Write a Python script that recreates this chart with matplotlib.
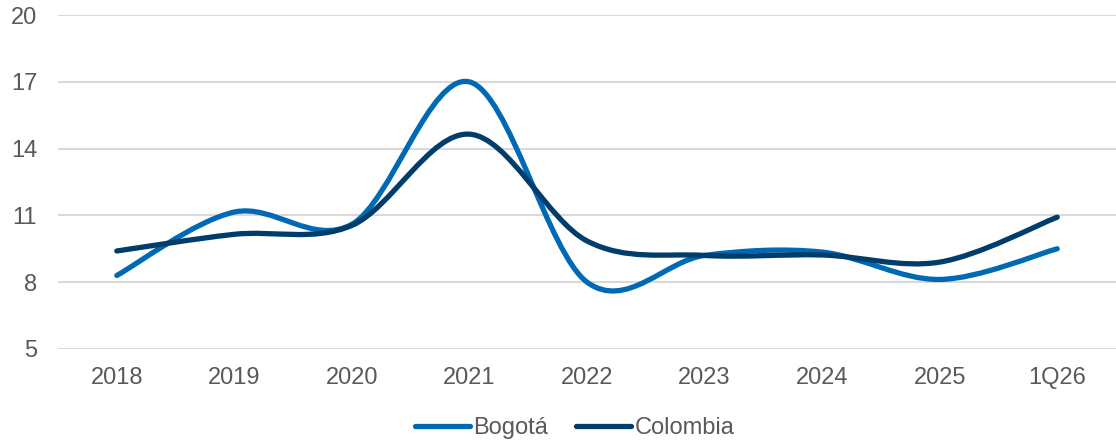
import matplotlib.pyplot as plt
import numpy as np
from matplotlib.path import Path
from matplotlib.patches import PathPatch
from matplotlib.lines import Line2D

plt.rcParams['font.family'] = ['Liberation Sans', 'DejaVu Sans']

periods = ["2018", "2019", "2020", "2021", "2022", "2023", "2024", "2025", "1Q26"]
bogota = [8.3, 11.15, 10.6, 17.0, 8.0, 9.2, 9.35, 8.12, 9.5]
colombia = [9.4, 10.15, 10.55, 14.65, 9.85, 9.2, 9.22, 8.9, 10.92]

blue = "#0069B4"
navy = "#003D6B"
grey_text = "#595959"


def smooth_path(xs, ys):
    # cubic bezier segments through every point (Excel-style smoothed line)
    pts = np.column_stack([xs, ys]).astype(float)
    padded = np.vstack([pts[0], pts, pts[-1]])
    verts = [pts[0]]
    codes = [Path.MOVETO]
    for i in range(len(pts) - 1):
        p0, p1, p2, p3 = padded[i], padded[i + 1], padded[i + 2], padded[i + 3]
        c1 = p1 + (p2 - p0) / 6.0
        c2 = p2 - (p3 - p1) / 6.0
        verts += [c1, c2, p2]
        codes += [Path.CURVE4] * 3
    return Path(verts, codes)


fig = plt.figure(figsize=(11.16, 4.45), dpi=100)
ax = fig.add_axes([0.052, 0.216, 0.948, 0.75])

x = np.arange(len(periods))
for vals, color in [(bogota, blue), (colombia, navy)]:
    patch = PathPatch(smooth_path(x, vals), fill=False, edgecolor=color,
                      linewidth=3.8, capstyle='round', joinstyle='round', zorder=3)
    ax.add_patch(patch)

ax.set_xlim(-0.5, len(periods) - 0.5)
ax.set_ylim(5, 20)
ax.set_yticks([5, 8, 11, 14, 17, 20])
ax.set_xticks(x)
ax.set_xticklabels(periods)
ax.yaxis.grid(True, color="#D9D9D9", linewidth=1.5)
ax.set_axisbelow(True)
for s in ax.spines.values():
    s.set_visible(False)
ax.tick_params(axis='both', length=0, labelsize=17, labelcolor=grey_text)
ax.tick_params(axis='x', pad=13)
ax.tick_params(axis='y', pad=15)

handles = [Line2D([], [], color=blue, linewidth=3.8, solid_capstyle='round'),
           Line2D([], [], color=navy, linewidth=3.8, solid_capstyle='round')]
fig.legend(handles, ["Bogotá", "Colombia"], loc='center', bbox_to_anchor=(0.515, 0.038),
           ncol=2, frameon=False, fontsize=17, labelcolor=grey_text,
           handlelength=2.3, handletextpad=0.15, columnspacing=1.2)

fig.savefig("out.png", dpi=100)
